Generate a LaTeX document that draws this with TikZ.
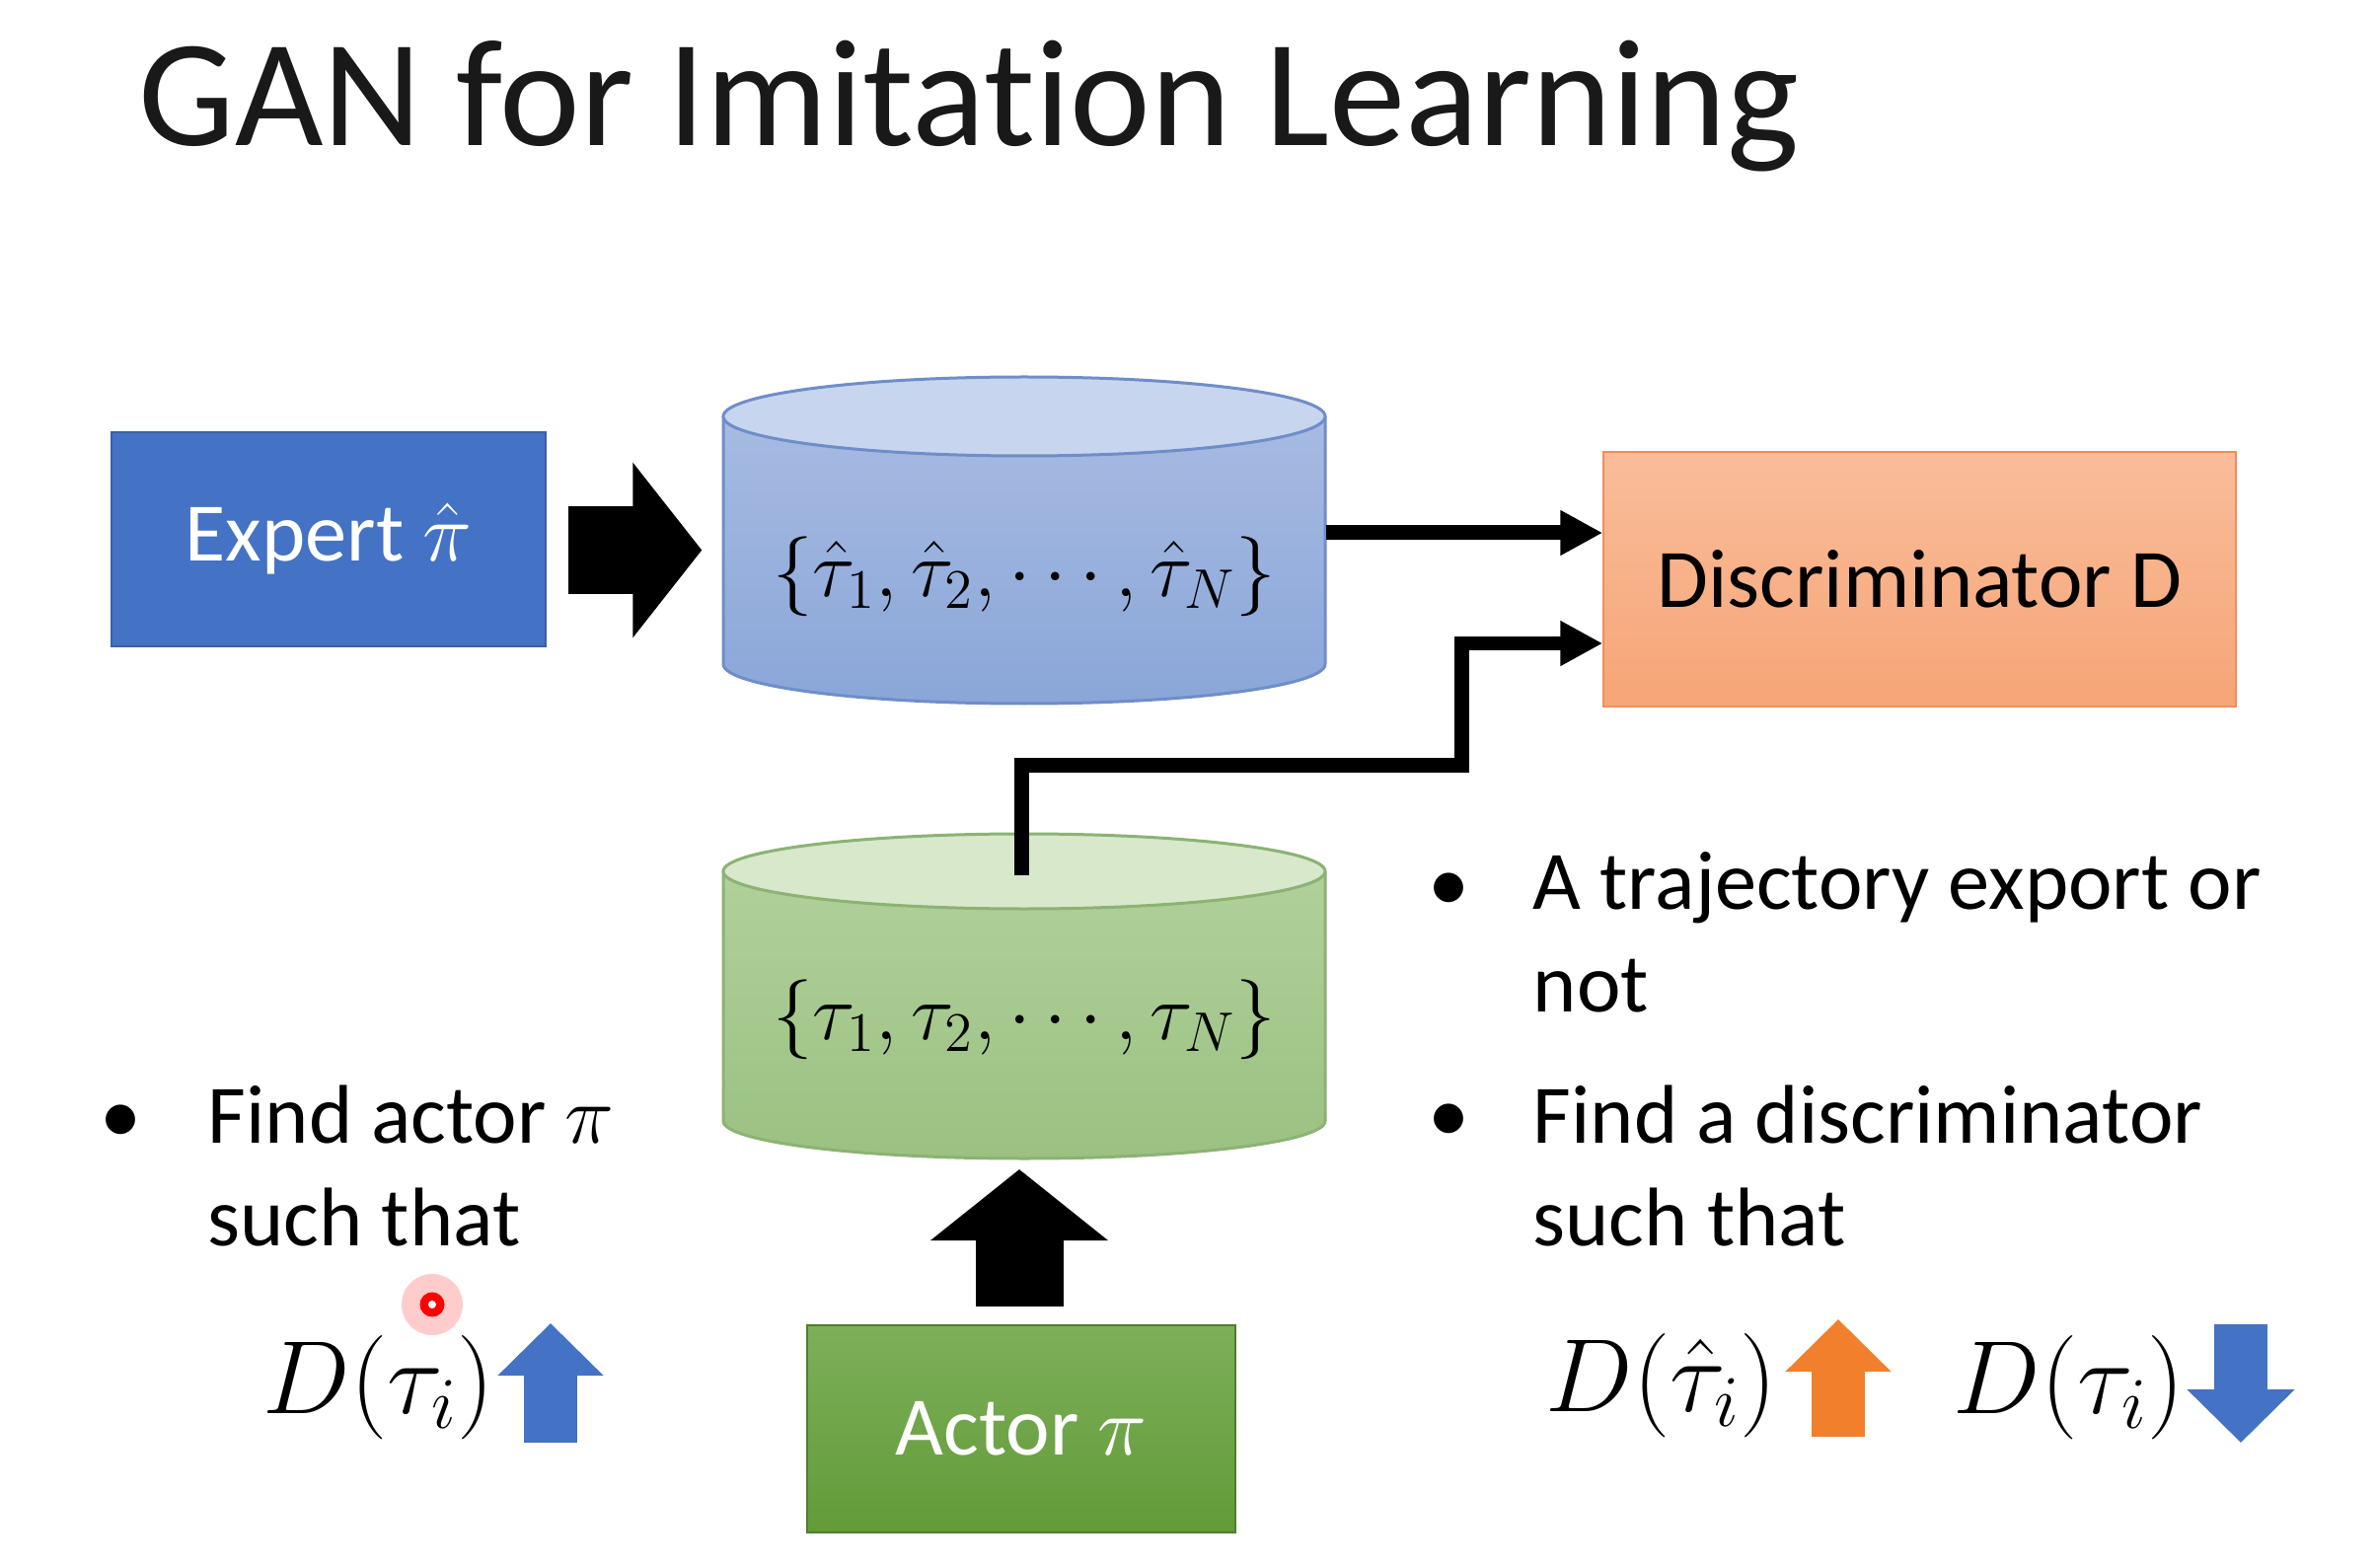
\RequirePackage{fix-cm}
\documentclass[tikz,border=0pt]{standalone}
\usepackage{fontspec}
\setmainfont{Carlito}[Ligatures=NoCommon]
\usetikzlibrary{arrows.meta,calc,positioning}

\definecolor{expblue}{HTML}{4472C4}
\definecolor{discTop}{HTML}{F9BD9A}
\definecolor{discBot}{HTML}{F6A577}
\definecolor{discEdge}{HTML}{EE8F5C}
\definecolor{actTop}{HTML}{7DAF5A}
\definecolor{actBot}{HTML}{629B38}
\definecolor{actEdge}{HTML}{4F7E2F}
\definecolor{bcylTop}{HTML}{C7D6EE}
\definecolor{bcylA}{HTML}{A7BBE2}
\definecolor{bcylB}{HTML}{8AA6D8}
\definecolor{bcylEdge}{HTML}{6F8DC9}
\definecolor{gcylTop}{HTML}{D7E8CB}
\definecolor{gcylA}{HTML}{B1D09B}
\definecolor{gcylB}{HTML}{9BC182}
\definecolor{gcylEdge}{HTML}{8CB274}
\definecolor{upOrange}{HTML}{F27F2B}

\tikzset{
  box/.style={rectangle, inner sep=0pt, font=\fontsize{24}{29}\selectfont},
  link/.style={line width=1.5mm, -{Triangle[length=4.3mm,width=4.3mm]}},
  bigarrow/.style={line width=8.9mm, -{Triangle[length=7mm,width=17.4mm]}},
  smallarrow/.style={line width=5.4mm, -{Triangle[length=5.3mm,width=10.4mm]}},
  note/.style={anchor=base west, align=left, inner sep=0pt, font=\fontsize{24}{29.5}\selectfont},
  dot/.style={anchor=base, inner sep=0pt, font=\fontsize{24}{29}\selectfont},
  dval/.style={anchor=base west, inner sep=0pt, font=\fontsize{30}{36}\selectfont},
  setlabel/.style={inner sep=0pt, minimum width=61mm, font=\fontsize{23}{28}\selectfont}
}

\begin{document}
\begin{tikzpicture}[x=0.1mm,y=0.1mm]
\useasboundingbox (0,0) rectangle (2408,1588);
\fill[white] (0,0) rectangle (2408,1588);

\node[anchor=base west, inner sep=0pt, font=\fontsize{44}{50}\selectfont, text=black!90] (title) at (140,1440) {GAN for Imitation Learning};

% expert data
\shade[top color=bcylA, bottom color=bcylB] (733,1166) -- (733,915) arc[start angle=180, end angle=360, x radius=30.5mm, y radius=4mm] -- (1343,1166) -- cycle;
\draw[bcylEdge, line width=0.3mm] (733,1166) -- (733,915) arc[start angle=180, end angle=360, x radius=30.5mm, y radius=4mm] -- (1343,1166);
\filldraw[fill=bcylTop, draw=bcylEdge, line width=0.3mm] (1038,1166) ellipse [x radius=30.5mm, y radius=4mm];
\node[setlabel] (expdata) at (1038,1004) {$\{\hat{\tau}_1,\hat{\tau}_2,\cdots,\hat{\tau}_N\}$};

% actor data
\shade[top color=gcylA, bottom color=gcylB] (733,705) -- (733,452) arc[start angle=180, end angle=360, x radius=30.5mm, y radius=3.8mm] -- (1343,705) -- cycle;
\draw[gcylEdge, line width=0.3mm] (733,705) -- (733,452) arc[start angle=180, end angle=360, x radius=30.5mm, y radius=3.8mm] -- (1343,705);
\filldraw[fill=gcylTop, draw=gcylEdge, line width=0.3mm] (1038,705) ellipse [x radius=30.5mm, y radius=3.8mm];
\node[setlabel] (actdata) at (1038,555) {$\{\tau_1,\tau_2,\cdots,\tau_N\}$};

\node[box, fill=expblue, draw=expblue!85!black, minimum width=44mm, minimum height=21.7mm, text=white] (expert) at (333,1041.5) {Expert $\hat{\pi}$};
\node[box, top color=discTop, bottom color=discBot, draw=discEdge, minimum width=64.1mm, minimum height=25.8mm] (disc) at (1945.5,1001) {Discriminator D};
\node[box, top color=actTop, bottom color=actBot, draw=actEdge, minimum width=43.4mm, minimum height=21mm, text=white] (actor) at (1035,140) {Actor $\pi$};

\draw[bigarrow] ($(expert.east)+(22,-11)$) -- ($(expert.east -| expdata.west)+(-21,-11)$);
\draw[link] ($(expdata.east)+(0,44)$) -- ($(disc.west)+(0,47)$);
\draw[link] ($(actdata.center)+(-3,146)$) |- ($(disc.west)+(-143,-188)$) |- ($(disc.west)+(0,-65)$);
\draw[line width=8.9mm, -{Triangle[length=7.2mm,width=17.6mm]}] ($(actor.north)+(-2,18)$) -- ($(actdata.center)+(-5,-152)$);

% bullets
\node[dot] (bul1) at (1468,665) {\textbullet};
\node[note] (trajnote) at (1553,563) {A trajectory export or\\not};
\node[dot] (bul2) at (1468,431) {\textbullet};
\node[note] (discnote) at (1553,326) {Find a discriminator\\such that};
\node[dot] (bul3) at (123,430) {\textbullet};
\node[note] (actnote) at (210,326) {Find actor $\pi$\\such that};

% objectives
\node[dval] (dleft) at (266,156) {$D(\tau_i)$};
\draw[smallarrow, expblue] (558,126) -- (558,247);
\node[dval] (dexp) at (1566,158) {$D(\hat{\tau}_i)$};
\draw[smallarrow, upOrange] (1863,132) -- (1863,251);
\node[dval] (dact) at (1979,156) {$D(\tau_i)$};
\draw[smallarrow, expblue, -{Triangle[length=5.4mm,width=10.6mm]}] (2271,246) -- (2271,126);

% pointer
\fill[red!20] (438,266) circle (3.1mm);
\fill[red] (438,266) circle (1.25mm);
\fill[white] (438,266) circle (0.4mm);
\end{tikzpicture}
\end{document}
